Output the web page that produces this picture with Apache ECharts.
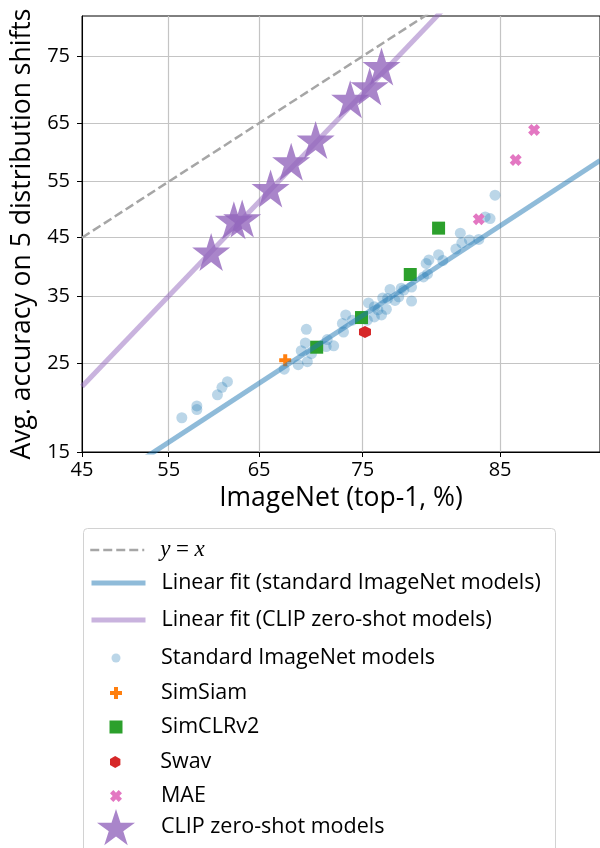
<!DOCTYPE html>
<html>
<head>
<meta charset="utf-8">
<script src="https://cdn.jsdelivr.net/npm/echarts@6/dist/echarts.min.js"></script>
<style>
  html, body { margin: 0; padding: 0; background: #fff; }
  #chart { width: 600px; height: 848px; }
</style>
</head>
<body>
<div id="chart"></div>
<script>
// values are percentages; both axes use a logit scale
const xTicks = [45, 55, 65, 75, 85];
const yTicks = [15, 25, 35, 45, 55, 65, 75];
const xRange = [45, 90];
const yRange = [15, 80];

const stdX = [56.5, 58.2, 58.2, 60.5, 61.0, 61.6, 67.6, 69.0, 69.9, 69.8, 69.7, 69.3, 70.3,
  71.8, 72.4, 71.7, 73.2, 73.3, 73.5, 74.1, 75.5, 75.4, 76.0, 76.0, 76.6, 76.3, 77.0, 77.3,
  77.1, 77.7, 78.0, 78.2, 78.4, 79.0, 79.0, 79.9, 80.1, 80.2, 80.3, 81.0, 81.3, 82.2, 82.5,
  82.6, 83.1, 83.7, 84.1, 84.4, 84.7, 76.7];
const stdY = [18.4, 19.3, 19.7, 21.0, 21.9, 22.6, 24.2, 24.8, 25.2, 29.8, 27.8, 26.7, 26.3,
  28.3, 27.4, 27.3, 30.7, 29.4, 32.0, 31.2, 33.9, 31.2, 33.3, 31.7, 32.0, 32.8, 32.9, 36.1,
  34.6, 34.3, 34.9, 36.3, 36.0, 36.5, 34.2, 38.2, 40.5, 38.7, 41.1, 42.0, 41.0, 43.0, 45.8,
  44.1, 44.6, 44.7, 48.7, 48.4, 52.6, 34.7];
const simsiamX = [67.7];
const simsiamY = [25.4];
const simclrX = [70.8, 74.9, 78.9, 81.0];
const simclrY = [27.2, 31.6, 38.6, 46.7];
const swavX = [75.2];
const swavY = [29.4];
const maeX = [83.7, 85.9, 86.9];
const maeY = [48.3, 58.8, 63.9];
const clipX = [59.8, 62.3, 63.2, 66.2, 68.3, 70.7, 73.9, 75.6, 76.6];
const clipY = [42.5, 48.1, 48.4, 53.8, 58.5, 62.2, 68.8, 70.7, 73.6];

const identX = [45, 90];
const identY = [45, 90];
const fitStdX = [45, 90];
const fitStdY = [11.2, 58.7];
const fitClipX = [45, 85];
const fitClipY = [22.0, 86.5];

const logit = (p) => Math.log(p / (100 - p));
const unlogit = (v) => 100 / (1 + Math.exp(-v));
const pts = (xs, ys) => xs.map((x, i) => [logit(x), logit(ys[i])]);

const font = "Open Sans";
const SYM = {
  plus: "path://M-1,-3H1V-1H3V1H1V3H-1V1H-3V-1H-1Z",
  hex: "path://M0,-10L8.66,-5L8.66,5L0,10L-8.66,5L-8.66,-5Z",
  cross: "path://M1.485,-3.323L3.323,-1.485L1.838,0L3.323,1.485L1.485,3.323L0,1.838L-1.485,3.323L-3.323,1.485L-1.838,0L-3.323,-1.485L-1.485,-3.323L0,-1.838Z",
  star: "path://M0,-10L2.245,-3.09L9.511,-3.09L3.633,1.18L5.878,8.09L0,3.82L-5.878,8.09L-3.633,1.18L-9.511,-3.09L-2.245,-3.09Z",
};

const chart = echarts.init(document.getElementById("chart"));

const legendText = {
  fontFamily: font,
  fontSize: 21.5,
  color: "#000",
  lineHeight: 30,
  rich: {
    m: { fontFamily: "Liberation Serif", fontStyle: "italic", fontSize: 23, color: "#000" },
    n: { fontFamily: "Liberation Serif", fontSize: 23, color: "#000" },
  },
};

function lineLegend(name, cy, width) {
  return {
    left: 89, top: cy - 15, padding: 0, selectedMode: false,
    itemWidth: 54, itemHeight: 14,
    lineStyle: { width: width },
    itemStyle: { opacity: 0 },
    data: [name],
    formatter: (n) => (n === "y = x" ? "{m|y} {n|=} {m|x}" : n),
    textStyle: Object.assign({}, legendText, { padding: [0, 0, 0, 11] }),
  };
}
function markLegend(name, cy, size) {
  const h = Math.max(size, 30);
  return {
    left: 116 - size / 2, top: cy - h / 2, padding: 0, selectedMode: false,
    itemWidth: size, itemHeight: size,
    data: [name],
    textStyle: Object.assign({}, legendText, { padding: [0, 0, 0, 40 - size / 2] }),
  };
}

chart.setOption({
  animation: false,
  textStyle: { fontFamily: font },
  grid: { left: 82, top: 16, width: 527, height: 436, show: true, borderColor: "#000", borderWidth: 1 },
  graphic: [{
    type: "rect",
    shape: { x: 83.5, y: 528.5, width: 472, height: 340, r: 4 },
    style: { fill: "#fff", stroke: "#d2d2d2", lineWidth: 1 },
  }],
  legend: [
    lineLegend("y = x", 550, 2.5),
    lineLegend("Linear fit (standard ImageNet models)", 583, 5),
    lineLegend("Linear fit (CLIP zero-shot models)", 620, 5),
    markLegend("Standard ImageNet models", 658, 9),
    markLegend("SimSiam", 693, 12),
    markLegend("SimCLRv2", 727, 13),
    markLegend("Swav", 762, 12),
    markLegend("MAE", 796, 12),
    markLegend("CLIP zero-shot models", 828, 38),
  ],
  xAxis: {
    type: "value",
    min: logit(xRange[0]),
    max: logit(xRange[1]),
    name: "ImageNet (top-1, %)",
    nameLocation: "middle",
    nameGap: 28,
    nameTextStyle: { fontFamily: font, fontSize: 26.5, color: "#000" },
    axisLine: { onZero: false, lineStyle: { color: "#000", width: 1 } },
    axisTick: { show: true, length: 5, customValues: xTicks.map(logit), lineStyle: { color: "#000" } },
    axisLabel: {
      customValues: xTicks.map(logit),
      formatter: (v) => String(Math.round(unlogit(v))),
      fontFamily: font, fontSize: 20, color: "#000", margin: 8,
    },
    splitLine: { show: true, lineStyle: { color: "#c4c4c4", width: 1.2 } },
  },
  yAxis: {
    type: "value",
    min: logit(yRange[0]),
    max: logit(yRange[1]),
    name: "Avg. accuracy on 5 distribution shifts",
    nameLocation: "middle",
    nameGap: 46,
    nameTextStyle: { fontFamily: font, fontSize: 26.5, color: "#000" },
    axisLine: { show: true, onZero: false, lineStyle: { color: "#000", width: 1 } },
    axisTick: { show: true, length: 5, customValues: yTicks.map(logit), lineStyle: { color: "#000" } },
    axisLabel: {
      customValues: yTicks.map(logit),
      formatter: (v) => String(Math.round(unlogit(v))),
      fontFamily: font, fontSize: 20, color: "#000", margin: 12,
    },
    splitLine: { show: true, lineStyle: { color: "#c4c4c4", width: 1.2 } },
  },
  series: [
    {
      name: "Standard ImageNet models", type: "scatter", symbol: "circle", symbolSize: 11,
      itemStyle: { color: "rgba(31,119,180,0.3)", opacity: 1 },
      data: pts(stdX, stdY),
    },
    {
      name: "SimSiam", type: "scatter", symbol: SYM.plus, symbolSize: 12,
      itemStyle: { color: "#ff7f0e", opacity: 1 },
      data: pts(simsiamX, simsiamY),
    },
    {
      name: "SimCLRv2", type: "scatter", symbol: "rect", symbolSize: 13,
      itemStyle: { color: "#2ca02c", opacity: 1 },
      data: pts(simclrX, simclrY),
    },
    {
      name: "Swav", type: "scatter", symbol: SYM.hex, symbolSize: 12,
      itemStyle: { color: "#d62728", opacity: 1 },
      data: pts(swavX, swavY),
    },
    {
      name: "MAE", type: "scatter", symbol: SYM.cross, symbolSize: 12,
      itemStyle: { color: "#e377c2", opacity: 1 },
      data: pts(maeX, maeY),
    },
    {
      name: "CLIP zero-shot models", type: "scatter", symbol: SYM.star, symbolSize: 38,
      itemStyle: { color: "rgba(148,103,189,0.8)", opacity: 1 },
      data: pts(clipX, clipY),
    },
    {
      name: "y = x", type: "line", symbol: "none",
      lineStyle: { color: "#a6a6a6", width: 2.5, type: [9, 4] },
      data: pts(identX, identY),
    },
    {
      name: "Linear fit (standard ImageNet models)", type: "line", symbol: "none",
      lineStyle: { color: "rgba(31,119,180,0.5)", width: 5 },
      data: pts(fitStdX, fitStdY),
    },
    {
      name: "Linear fit (CLIP zero-shot models)", type: "line", symbol: "none",
      lineStyle: { color: "rgba(148,103,189,0.5)", width: 5 },
      data: pts(fitClipX, fitClipY),
    },
  ],
});
</script>
</body>
</html>
